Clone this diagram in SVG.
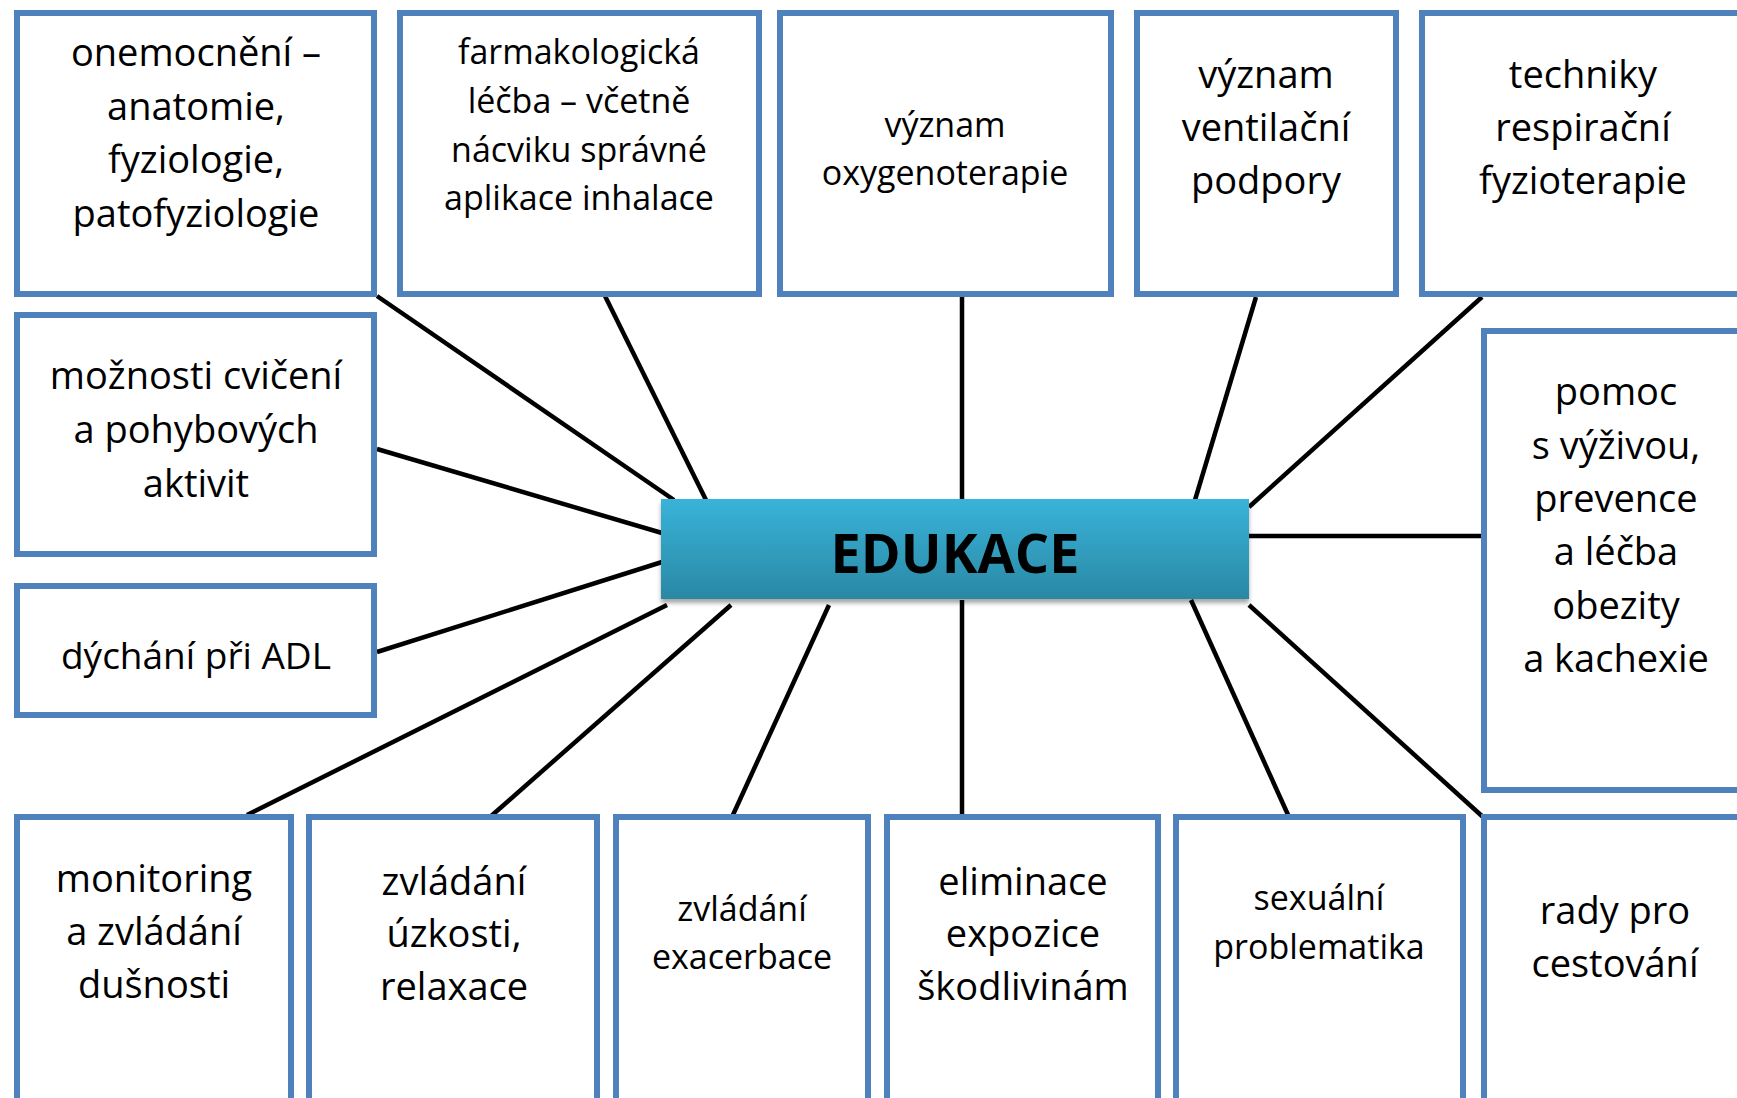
<svg xmlns="http://www.w3.org/2000/svg" width="1737" height="1098" viewBox="0 0 1737 1098">
<style>
.box{fill:#fff;stroke:#4F81BD;stroke-width:6}
.t{font-family:"Open Sans","Noto Sans","Liberation Sans",sans-serif;fill:#000;text-anchor:middle}
.s38{font-size:38px}
.s34{font-size:34px}
.conn line{stroke:#000;stroke-width:4.5}
.hub{font-family:"Open Sans","Noto Sans","Liberation Sans",sans-serif;font-weight:bold;font-size:54px;fill:#000;text-anchor:middle}
</style>
<defs>
<linearGradient id="hubg" x1="0" y1="0" x2="0" y2="1">
<stop offset="0" stop-color="#39B3D9"/>
<stop offset="1" stop-color="#2A88A4"/>
</linearGradient>
<filter id="sh" x="-5%" y="-10%" width="110%" height="130%">
<feDropShadow dx="0" dy="4" stdDeviation="2" flood-color="#000" flood-opacity="0.35"/>
</filter>
</defs>
<rect width="1737" height="1098" fill="#fff"/>
<g id="connectors" class="conn">
<line x1="377" y1="296" x2="674" y2="500"/>
<line x1="605" y1="296" x2="706" y2="500"/>
<line x1="962" y1="297" x2="962" y2="499"/>
<line x1="1256" y1="297" x2="1195" y2="500"/>
<line x1="1482" y1="297" x2="1249" y2="507"/>
<line x1="377" y1="449" x2="662" y2="533"/>
<line x1="377" y1="652" x2="662" y2="562"/>
<line x1="1249" y1="536" x2="1481" y2="536"/>
<line x1="247" y1="815" x2="667" y2="605"/>
<line x1="490" y1="817" x2="731" y2="605"/>
<line x1="732" y1="817" x2="829" y2="605"/>
<line x1="962" y1="817" x2="962" y2="600"/>
<line x1="1289" y1="817" x2="1191" y2="600"/>
<line x1="1483" y1="817" x2="1249" y2="605"/>
</g>
<g id="n1"><rect class="box" x="17" y="13" width="357" height="281"/>
<text class="t s38" x="196"><tspan x="196" y="66">onemocnění –</tspan><tspan x="196" y="119.5">anatomie,</tspan><tspan x="196" y="173">fyziologie,</tspan><tspan x="196" y="226.5">patofyziologie</tspan></text></g>
<g id="n2"><rect class="box" x="400" y="13" width="359" height="281"/>
<text class="t s34" x="579"><tspan x="579" y="64">farmakologická</tspan><tspan x="579" y="113">léčba – včetně</tspan><tspan x="579" y="161.5">nácviku správné</tspan><tspan x="579" y="210">aplikace inhalace</tspan></text></g>
<g id="n3"><rect class="box" x="780" y="13" width="331" height="281"/>
<text class="t s34" x="945"><tspan x="945" y="137">význam</tspan><tspan x="945" y="185">oxygenoterapie</tspan></text></g>
<g id="n4"><rect class="box" x="1137" y="13" width="259" height="281"/>
<text class="t s38" x="1266"><tspan x="1266" y="88">význam</tspan><tspan x="1266" y="140.5">ventilační</tspan><tspan x="1266" y="193.5">podpory</tspan></text></g>
<g id="n5"><rect class="box" x="1422" y="13" width="325" height="281"/>
<text class="t s38" x="1583"><tspan x="1583" y="88">techniky</tspan><tspan x="1583" y="140.5">respirační</tspan><tspan x="1583" y="193.5">fyzioterapie</tspan></text></g>
<g id="n6"><rect class="box" x="17" y="315" width="357" height="239"/>
<text class="t s38" x="196"><tspan x="196" y="388.5">možnosti cvičení</tspan><tspan x="196" y="442.5">a pohybových</tspan><tspan x="196" y="496.5">aktivit</tspan></text></g>
<g id="n7"><rect class="box" x="17" y="586" width="357" height="129"/>
<text class="t" style="font-size:37px" x="196" y="669">dýchání při ADL</text></g>
<g id="n8"><rect class="box" x="1484" y="331" width="265" height="459"/>
<text class="t s38" x="1616"><tspan x="1616" y="405">pomoc</tspan><tspan x="1616" y="459">s výživou,</tspan><tspan x="1616" y="512">prevence</tspan><tspan x="1616" y="565">a léčba</tspan><tspan x="1616" y="619">obezity</tspan><tspan x="1616" y="672">a kachexie</tspan></text></g>
<g id="n9"><rect class="box" x="17" y="817" width="274" height="300"/>
<text class="t s38" x="154"><tspan x="154" y="892">monitoring</tspan><tspan x="154" y="945">a zvládání</tspan><tspan x="154" y="998">dušnosti</tspan></text></g>
<g id="n10"><rect class="box" x="309" y="817" width="288" height="300"/>
<text class="t s38" x="454"><tspan x="454" y="895">zvládání</tspan><tspan x="454" y="947">úzkosti,</tspan><tspan x="454" y="1000">relaxace</tspan></text></g>
<g id="n11"><rect class="box" x="616" y="817" width="252" height="300"/>
<text class="t s34" x="742"><tspan x="742" y="921">zvládání</tspan><tspan x="742" y="969">exacerbace</tspan></text></g>
<g id="n12"><rect class="box" x="887" y="817" width="271" height="300"/>
<text class="t s38" x="1023"><tspan x="1023" y="895">eliminace</tspan><tspan x="1023" y="947">expozice</tspan><tspan x="1023" y="1000">škodlivinám</tspan></text></g>
<g id="n13"><rect class="box" x="1176" y="817" width="287" height="300"/>
<text class="t s34" x="1319"><tspan x="1319" y="910">sexuální</tspan><tspan x="1319" y="959">problematika</tspan></text></g>
<g id="n14"><rect class="box" x="1484" y="817" width="265" height="300"/>
<text class="t s38" x="1615"><tspan x="1615" y="924">rady pro</tspan><tspan x="1615" y="977">cestování</tspan></text></g>
<g id="hub"><rect x="661" y="499" width="588" height="100" fill="url(#hubg)" filter="url(#sh)"/>
<text class="hub" x="955" y="573">EDUKACE</text></g>
</svg>
